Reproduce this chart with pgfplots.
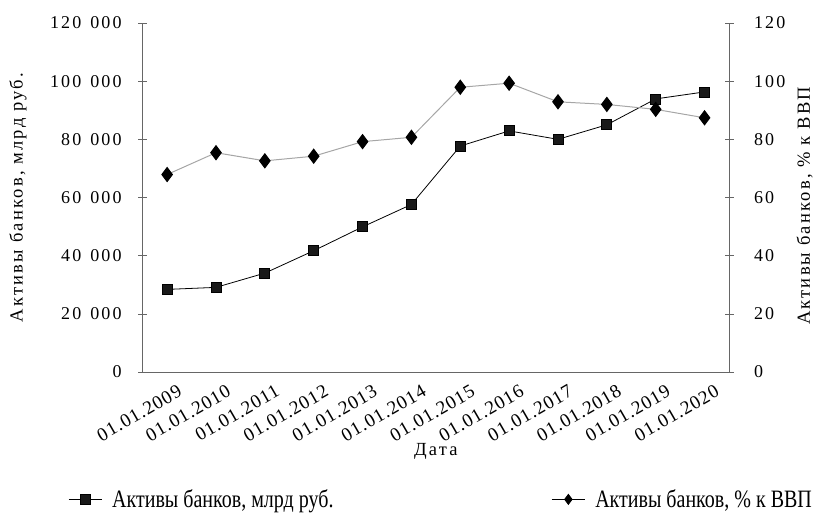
\documentclass[border=0pt]{standalone}
\usepackage{fontspec}
\setmainfont{Liberation Serif}
\newfontfamily\axfont[LetterSpace=12]{Liberation Serif}
\newfontfamily\xfont[LetterSpace=5]{Liberation Serif}
\newfontfamily\legfont[FakeStretch=0.8]{Liberation Serif}
\usepackage{pgfplots}
\pgfplotsset{compat=1.18}

\pgfplotstableread{
x rub pct
0 28400 67.9
1 29100 75.4
2 34000 72.6
3 41700 74.2
4 49900 79.2
5 57600 80.7
6 77700 97.9
7 82900 99.3
8 80000 92.9
9 85000 92.0
10 93900 90.3
11 96300 87.4
}\banks

\begin{document}
\begin{tikzpicture}
\useasboundingbox (-142.7bp,-152bp) rectangle (674.3bp,372bp);
\pgfplotsset{
  common/.style={
    scale only axis, width=586.3bp, height=349bp,
    xmin=-0.5, xmax=11.5,
    ymin=0,
    axis line style={gray!80!black, line width=0.6pt},
    tick style={gray!80!black, line width=0.6pt},
    tick align=center, major tick length=9bp,
    scaled y ticks=false,
    tick label style={font=\axfont\fontsize{18bp}{20bp}\selectfont},
    label style={font=\axfont\fontsize{18.5bp}{21bp}\selectfont},
  }
}
\begin{axis}[common,
  axis x line*=bottom, axis y line*=left,
  ymax=120000, ytick={0,20000,40000,60000,80000,100000,120000},
  yticklabels={0,20\enspace000,40\enspace000,60\enspace000,80\enspace000,100\enspace000,120\enspace000},
  yticklabel style={xshift=-13bp},
  xtick={0,...,11},
  xticklabels={01.01.2009,01.01.2010,01.01.2011,01.01.2012,01.01.2013,01.01.2014,01.01.2015,01.01.2016,01.01.2017,01.01.2018,01.01.2019,01.01.2020},
  xtick style={draw=none},
  extra x ticks={-0.5,0.5,1.5,2.5,3.5,4.5,5.5,6.5,7.5,8.5,9.5,10.5,11.5},
  extra x tick labels={},
  extra x tick style={tick style={gray!80!black, line width=0.6pt}, major tick length=10bp},
  xticklabel style={font=\xfont\fontsize{19bp}{21bp}\selectfont, xshift=10bp, yshift=-6bp, rotate=30, anchor=north east, inner sep=1bp},
  xlabel={Дата},
  xlabel style={at={(axis description cs:0.5,-0.228)}, anchor=center},
  ylabel={Активы банков, млрд руб.},
  ylabel style={at={(axis description cs:-0.2126,0.5)}, anchor=center},
  legend columns=2,
  legend style={at={(axis description cs:0.509,-0.365)}, anchor=center, draw=none,
    font=\legfont\fontsize{25bp}{27bp}\selectfont,
    /tikz/every odd column/.append style={column sep=8bp},
    /tikz/every even column/.append style={column sep=216bp}},
  legend image code/.code={\draw[black, line width=0.8pt] (0bp,0bp) -- (33bp,0bp);
    \path[mark repeat=2,mark phase=2] plot coordinates {(0bp,0bp) (16.5bp,0bp) (33bp,0bp)};},
]
\addplot[black, line width=0.8pt, mark=square*, mark size=5bp, mark options={solid, fill=black!90}]
  table[x=x, y=rub] {\banks};
\addlegendentry{Активы банков, млрд руб.}
\addlegendimage{black, line width=0.8pt, mark=diamond*, mark size=5bp, mark options={fill=black}}
\addlegendentry{Активы банков, \% к ВВП}
\end{axis}
\begin{axis}[common,
  axis x line=none, axis y line*=right,
  xtick=\empty,
  ymax=120, ytick={0,20,40,60,80,100,120},
  yticklabels={0,20,40,60,80,100,120},
  yticklabel style={xshift=17bp},
  ylabel={Активы банков, \% к ВВП},
  ylabel style={at={(axis description cs:1.129,0.476)}, anchor=center},
]
\addplot[gray!70, line width=1pt, mark=diamond*, mark size=7bp, mark options={solid, fill=black, draw=black}]
  table[x=x, y=pct] {\banks};
\end{axis}
\end{tikzpicture}
\end{document}
